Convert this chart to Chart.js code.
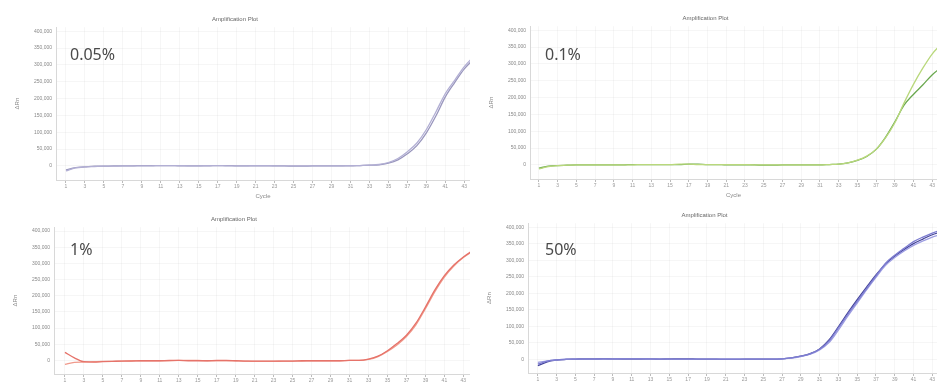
<!DOCTYPE html>
<html>
<head>
<meta charset="utf-8">
<script src="https://cdn.jsdelivr.net/npm/chart.js@4.4.1/dist/chart.umd.min.js"></script>
<style>
  body { margin: 0; width: 937px; height: 386px; overflow: hidden; background: #fff; position: relative; font-family: "Noto Sans", sans-serif; }
  canvas { position: absolute; }
  .pct { position: absolute; font-size: 16px; color: #4a4a4a; line-height: 1; }
</style>
</head>
<body>
<canvas id="c1" width="470" height="200" style="left:0px;top:0px"></canvas>
<canvas id="c2" width="463" height="200" style="left:474px;top:-1px"></canvas>
<canvas id="c3" width="472" height="194" style="left:-2px;top:200px"></canvas>
<canvas id="c4" width="465" height="197" style="left:472px;top:196px"></canvas>
<div class="pct" style="left:70px;top:46px">0.05%</div>
<div class="pct" style="left:545px;top:46px">0.1%</div>
<div class="pct" style="left:70px;top:241px">1%</div>
<div class="pct" style="left:545px;top:241px">50%</div>
<script>
// cycle numbers and the x tick labels
let cycles = [1,2,3,4,5,6,7,8,9,10,11,12,13,14,15,16,17,18,19,20,21,22,23,24,25,26,27,28,29,30,31,32,33,34,35,36,37,38,39,40,41,42,43,44];
let xTicks = [1,3,5,7,9,11,13,15,17,19,21,23,25,27,29,31,33,35,37,39,41,43];
// delta Rn, in thousands
let yTicks = [0,50,100,150,200,250,300,350,400];

let rn005a = [-15,-6,-3,-2,-1,-1,0,0,0,0, 1,1,1,0,0,1,1,0,0,0, 1,1,0,0,0,0,0,0,0,0, 1,1,2,4,10,22,42,68,108,160, 215,255,295,325];
let rn005b = [-12,-5,-3,-1,-1,0,0,0,1,1, 1,1,0,0,0,0,1,1,0,0, 0,0,0,0,-1,-1,0,0,0,0, 0,1,2,3,8,18,36,60,98,148, 205,248,288,318];

let rn01a = [-12,-5,-2,-1,0,0,0,0,0,0, 0,1,1,1,1,2,2,1,1,1, 1,1,1,0,0,0,0,0,0,0, 0,1,2,6,14,26,46,80,125,185, 240,288,330,360];
let rn01b = [-10,-4,-2,-1,0,0,0,0,0,0, 1,1,1,1,1,1,2,2,1,1, 0,0,0,0,-1,-1,0,0,0,0, 0,1,2,6,13,25,46,82,128,178, 210,238,268,290];

let rn1a = [25,8,-4,-5,-4,-3,-2,-2,-1,-1, -1,0,0,-1,-1,-1,0,0,-1,-2, -2,-2,-2,-2,-2,-1,-1,-1,-1,-1, 0,0,4,13,30,52,78,115,165,218, 262,295,320,340];
let rn1b = [-12,-6,-5,-4,-3,-3,-2,-1,-1,-1, -1,-1,0,0,0,-1,-1,-1,-1,-2, -3,-3,-3,-2,-2,-2,-1,-1,-1,-1, 0,0,3,12,28,48,74,110,160,213, 258,292,318,338];

let rn50a = [-15,-6,-2,0,0,0,0,1,1,1, 1,1,1,0,0,0,0,0,0,0, 0,0,0,0,0,0,1,4,9,16, 30,55,95,136,175,214,252,290,315,336, 356,370,382,392];
let rn50b = [-10,-5,-2,-1,0,0,0,0,0,1, 1,1,0,0,0,-1,-1,0,0,0, 0,0,0,0,0,0,1,3,8,15, 28,50,88,130,170,210,248,284,308,328, 345,358,370,378];
let rn50c = [-20,-8,-3,-1,0,1,1,1,0,0, 0,0,0,0,1,1,1,0,0,0, -1,-1,0,0,0,0,1,4,9,17, 31,58,98,140,180,218,255,288,312,332, 350,364,377,386];

let tickFont = {family: "Liberation Sans", size: 5};
let gridColor = "rgba(0,0,0,0.035)";

function makePanel(id, series, colors, xMin, xMax) {
    new Chart(document.getElementById(id).getContext("2d"), {
        type: "line",
        data: {
            datasets: series.map((s, i) => ({
                data: cycles.map((c, j) => ({x: c, y: s[j]})),
                borderColor: colors[i],
                borderWidth: 1.3,
                pointRadius: 0,
                cubicInterpolationMode: "monotone",
                fill: false
            }))
        },
        options: {
            responsive: false,
            animation: false,
            devicePixelRatio: 1,
            layout: {padding: {top: 16, left: 0, right: 0, bottom: 0}},
            plugins: {
                legend: {display: false},
                tooltip: {enabled: false},
                title: {
                    display: true,
                    text: "Amplification Plot",
                    color: "#666",
                    font: {family: "Liberation Sans", size: 6, weight: "normal"},
                    padding: {top: 0, bottom: 4}
                }
            },
            scales: {
                x: {
                    type: "linear",
                    min: xMin,
                    max: xMax,
                    afterBuildTicks: (scale) => { scale.ticks = xTicks.map((v) => ({value: v})); },
                    afterFit: (scale) => { scale.height = 20; },
                    border: {color: "#d8d8d8"},
                    grid: {color: gridColor, tickColor: "#bbb", tickLength: 3},
                    ticks: {font: tickFont, color: "#999", padding: 1, maxRotation: 0, autoSkip: false},
                    title: {display: true, text: "Cycle", color: "#888", font: {family: "Liberation Sans", size: 6}, padding: {top: 1, bottom: 0}}
                },
                y: {
                    min: -42,
                    max: 412,
                    afterBuildTicks: (scale) => { scale.ticks = yTicks.map((v) => ({value: v})); },
                    afterFit: (scale) => { scale.width = 56; },
                    border: {color: "#d8d8d8"},
                    grid: {color: gridColor, drawTicks: false},
                    ticks: {
                        font: tickFont,
                        color: "#888",
                        padding: 4,
                        callback: (v) => (v * 1000).toLocaleString("en-US")
                    },
                    title: {display: true, text: "ΔRn", color: "#888", font: {family: "Liberation Sans", size: 6}, padding: {top: 14, bottom: 0}}
                }
            }
        }
    });
}

makePanel("c1", [rn005a, rn005b], ["#b2afd4", "#9996bd"], -0.05, 43.6);
makePanel("c2", [rn01a, rn01b], ["#b9d87c", "#6aa84f"], 0.05, 43.5);
makePanel("c3", [rn1a, rn1b], ["#e6736a", "#f09a8c"], -0.15, 43.7);
makePanel("c4", [rn50a, rn50b, rn50c], ["#7c7cd0", "#9d9de2", "#45459a"], -0.05, 43.5);
</script>
</body>
</html>
